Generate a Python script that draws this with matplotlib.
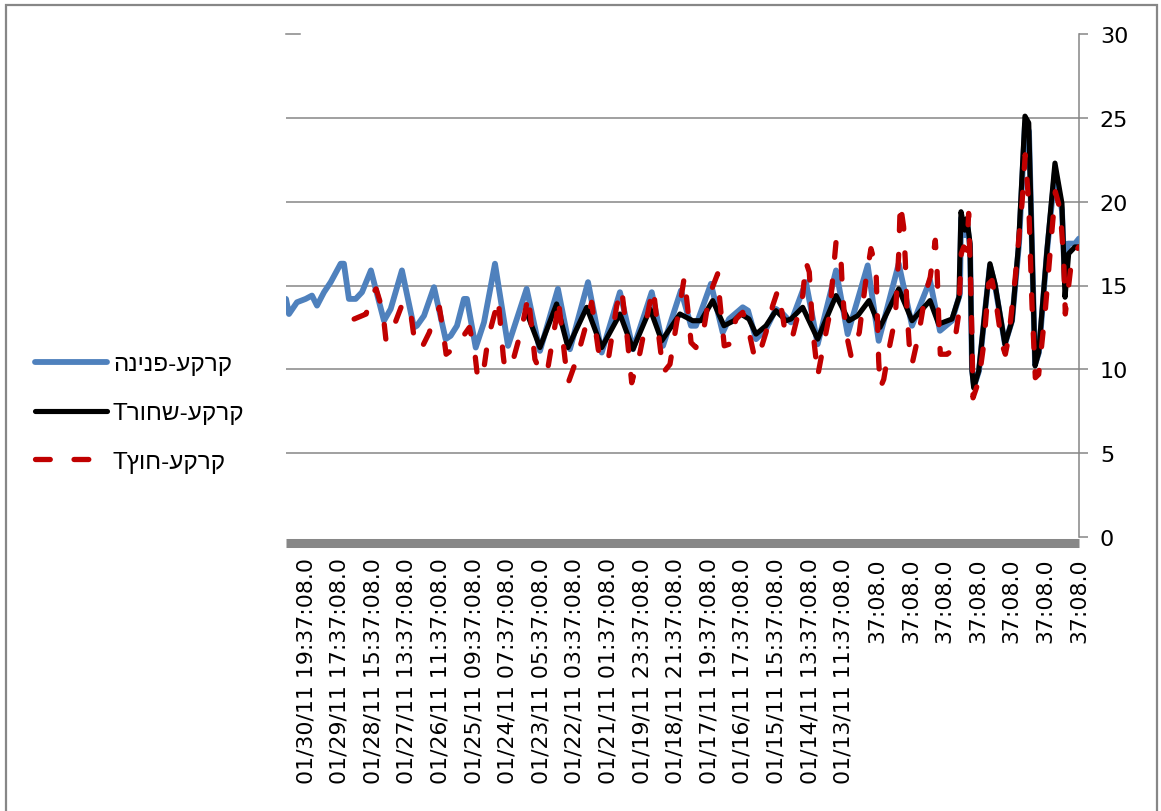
import matplotlib
matplotlib.use('Agg')
import matplotlib.pyplot as plt
from matplotlib.patches import Rectangle

# ---------------- data (x = hours from first sample, right edge = 0) ----------------
series_names = ["קרקע-פנינה", "קרקע-שחורT", "קרקע-חוץT"]

blue_h = [613.6, 611.3, 605.1, 598.4, 593.5, 589.6, 584.2, 579.0, 571.3, 568.8, 564.9, 559.7, 554.8, 547.9,
          537.8, 532.6, 523.9, 514.6, 512.3, 506.8, 499.1, 490.1, 486.2, 481.3, 475.9, 473.6, 466.8, 460.4,
          451.9, 441.8, 427.4, 417.1, 403.2, 393.9, 379.9, 369.3, 355.2, 345.1, 330.6, 321.9, 308.0, 300.2,
          296.4, 284.8, 275.7, 270.8, 260.2, 256.1, 249.9, 242.2, 234.5, 229.0, 222.9, 211.3, 202.2, 188.0,
          179.0, 163.5, 155.0, 139.5, 129.2, 121.5, 115.3, 107.6, 98.3, 92.1, 91.3, 88.2, 86.7, 84.3, 82.8,
          81.2, 77.4, 72.7, 68.9, 65.0, 57.3, 51.8, 46.4, 41.8, 38.7, 34.0, 31.0, 24.8, 18.6, 13.2, 10.8,
          8.5, 3.1, 0.0]
blue_v = [14.2, 13.3, 14.0, 14.2, 14.4, 13.8, 14.6, 15.2, 16.3, 16.3, 14.2, 14.2, 14.6, 15.9,
          12.9, 13.6, 15.9, 12.5, 12.6, 13.2, 14.9, 11.8, 12.0, 12.6, 14.2, 14.2, 11.3, 12.8,
          16.3, 11.4, 14.8, 11.1, 14.8, 11.2, 15.2, 11.0, 14.6, 11.2, 14.6, 11.4, 14.7, 12.6,
          12.6, 15.1, 12.2, 13.0, 13.7, 13.5, 11.8, 12.4, 13.6, 13.3, 12.8, 15.2, 11.5, 15.9,
          12.1, 16.2, 11.7, 16.3, 12.6, 14.1, 15.3, 12.3, 12.9, 14.5, 19.0, 18.0, 18.7, 17.3, 10.0,
          9.0, 9.9, 13.5, 16.2, 15.0, 11.5, 12.9, 17.5, 24.6, 24.2, 10.3, 11.0, 17.0, 21.8, 19.5, 15.0,
          17.5, 17.5, 17.8]

black_h = [427.4, 417.1, 404.2, 395.4, 380.9, 369.3, 355.2, 345.1, 331.9, 322.9, 308.8, 298.9, 292.5, 283.4,
           274.7, 267.0, 261.6, 255.4, 249.9, 242.2, 234.5, 226.7, 222.9, 213.8, 202.2, 188.0, 178.0, 171.2,
           162.5, 154.0, 139.5, 129.2, 115.3, 108.6, 98.3, 92.9, 91.3, 88.4, 86.7, 84.3, 82.8, 81.5, 77.6,
           72.7, 68.9, 65.0, 57.3, 51.8, 46.7, 41.8, 38.9, 34.0, 31.2, 24.8, 18.6, 13.2, 10.8, 8.0, 3.1, 0.0]
black_v = [13.4, 11.3, 13.9, 11.3, 13.7, 11.3, 13.3, 11.2, 13.6, 11.7, 13.3, 12.9, 12.9, 14.1,
           12.6, 12.9, 13.3, 13.0, 12.1, 12.6, 13.5, 12.9, 13.0, 13.7, 11.8, 14.4, 12.9, 13.2,
           14.1, 12.5, 14.8, 12.9, 14.1, 12.7, 13.0, 14.3, 19.4, 18.3, 19.0, 17.5, 9.9, 8.9, 9.9,
           13.5, 16.3, 15.1, 11.5, 12.9, 17.5, 25.1, 24.7, 10.2, 11.0, 17.1, 22.3, 19.9, 14.3, 16.9, 17.3, 17.3]

red_h = [560.9, 551.6, 547.7, 543.9, 538.7, 536.2, 531.0, 524.6, 522.0, 516.8,
         514.5, 509.1, 502.7, 500.0, 494.9, 492.3, 489.7, 484.5, 478.1, 471.7,
         467.8, 465.2, 460.4, 457.1, 451.9, 449.4, 445.5, 444.2, 437.7, 431.3,
         426.1, 421.0, 415.8, 410.7, 404.2, 402.9, 397.7, 395.2, 388.7, 380.9,
         377.1, 372.0, 369.3, 364.2, 357.7, 353.9, 350.0, 346.1, 339.7, 332.0,
         329.4, 325.5, 321.7, 316.5, 311.3, 309.3, 305.4, 301.6, 300.2, 296.4,
         289.9, 286.1, 279.6, 278.3, 274.5, 270.6, 265.4, 260.2, 256.4, 251.3,
         248.6, 242.2, 237.0, 233.1, 229.3, 226.7, 221.5, 213.8, 211.3, 208.7,
         206.1, 203.5, 202.2, 198.3, 193.2, 188.0, 184.2, 182.9, 180.3, 176.4,
         170.0, 164.8, 161.0, 157.1, 156.3, 155.0, 153.8, 151.1, 147.3, 142.1,
         139.5, 138.3, 135.7, 134.4, 133.1, 130.5, 129.2, 124.0, 118.9, 115.1,
         111.2, 109.9, 108.6, 107.3, 102.1, 97.0, 93.1, 91.1, 89.2, 86.7,
         85.4, 84.1, 82.8, 82.0, 77.6, 73.7, 69.9, 67.3, 64.8, 59.6,
         57.0, 54.4, 49.3, 44.1, 41.6, 38.9, 36.4, 33.8, 31.2, 26.1,
         20.9, 18.3, 14.5, 11.8, 10.6, 5.4, 0.2]
red_v = [13.0, 13.3, 14.4, 14.8, 13.5, 11.7, 12.4, 13.7, 14.0, 13.2,
         11.9, 11.2, 12.2, 12.9, 13.7, 12.4, 10.9, 11.2, 11.8, 12.5,
         11.2, 9.4, 10.1, 11.9, 13.4, 14.2, 10.8, 10.0, 10.6, 12.4,
         14.4, 10.6, 9.7, 10.2, 13.2, 14.2, 10.6, 9.2, 10.6, 12.8,
         14.0, 11.2, 10.4, 10.6, 13.8, 14.8, 12.2, 9.2, 11.0, 14.0,
         14.8, 12.2, 9.8, 10.3, 12.8, 13.6, 15.5, 12.8, 11.6, 11.3,
         12.6, 14.4, 15.7, 14.4, 11.4, 11.5, 13.0, 13.4, 12.6, 10.8,
         10.6, 12.2, 13.8, 14.7, 13.2, 11.8, 12.0, 14.4, 16.4, 15.8,
         12.4, 10.6, 9.6, 11.2, 13.2, 17.6, 16.6, 14.5, 12.2, 10.8,
         12.2, 15.4, 17.2, 16.1, 13.9, 10.5, 8.9, 9.4, 11.1, 13.1,
         16.9, 19.9, 18.5, 16.5, 13.5, 10.5, 10.3, 12.1, 14.5, 15.5,
         17.7, 16.1, 13.1, 10.9, 10.9, 11.2, 13.3, 16.9, 17.3, 17.1,
         19.3, 15.9, 11.9, 8.3, 9.3, 11.5, 15.1, 15.3, 14.3, 11.5,
         10.9, 11.9, 15.5, 19.9, 22.8, 19.9, 13.9, 9.5, 9.7, 13.5,
         18.3, 20.6, 19.5, 16.5, 13.3, 16.7, 17.3]

tick_hours = [26 * k for k in range(24)]
tick_labels = ["37:08.0"] * 7 + [
    "01/13/11 11:37:08.0", "01/14/11 13:37:08.0", "01/15/11 15:37:08.0", "01/16/11 17:37:08.0",
    "01/17/11 19:37:08.0", "01/18/11 21:37:08.0", "01/19/11 23:37:08.0", "01/21/11 01:37:08.0",
    "01/22/11 03:37:08.0", "01/23/11 05:37:08.0", "01/24/11 07:37:08.0", "01/25/11 09:37:08.0",
    "01/26/11 11:37:08.0", "01/27/11 13:37:08.0", "01/28/11 15:37:08.0", "01/29/11 17:37:08.0",
    "01/30/11 19:37:08.0"]
y_ticks = [0, 5, 10, 15, 20, 25, 30]

# ---------------- figure ----------------
W, H = 1161, 812
fig = plt.figure(figsize=(W / 100, H / 100), dpi=100)
fig.patch.set_facecolor('white')
fig.patches.append(Rectangle((6 / W, -0.05), (1157 - 6) / W, 1 - 6 / H + 0.05,
                             transform=fig.transFigure, fill=False,
                             edgecolor='#878787', lw=1.6))

ax = fig.add_axes([286 / W, 1 - 538 / H, (1079 - 286) / W, (538 - 35) / H])

GRAY = '#868686'

# spines first (set_position resets ticks)
for s in ['top', 'left']:
    ax.spines[s].set_visible(False)
ax.spines['right'].set_color(GRAY)
ax.spines['right'].set_linewidth(1.1)
ax.spines['bottom'].set_color('#878787')
ax.spines['bottom'].set_linewidth(6.5)
ax.spines['bottom'].set_capstyle('butt')
ax.spines['bottom'].set_position(('outward', 4))
ax.spines['bottom'].set_zorder(6)

def disp(s):
    return s[::-1]

ax.plot(blue_h, blue_v, color='#4F81BD', lw=4.2, solid_joinstyle='round',
        solid_capstyle='round', label=disp(series_names[0]), zorder=3)
ax.plot(black_h, black_v, color='black', lw=3.7, solid_joinstyle='round',
        solid_capstyle='round', label=disp(series_names[1]), zorder=4)
ax.plot(red_h, red_v, color='#C00000', lw=3.8, linestyle=(0, (2.8, 4.5)),
        dash_capstyle='round', dash_joinstyle='round', label=disp(series_names[2]), zorder=5)

ax.set_xlim(613.6, 0)
ax.set_ylim(0, 30)

ax.set_xticks(tick_hours)
ax.set_xticklabels(tick_labels)
ax.tick_params(axis='x', length=0, pad=10.6, labelrotation=90, labelsize=15.8,
               labelfontfamily='DejaVu Sans')
for t in ax.get_xticklabels():
    t.set_verticalalignment('top')
    t.set_horizontalalignment('center')

ax.yaxis.tick_right()
ax.set_yticks(y_ticks)
ax.set_yticklabels([str(v) for v in y_ticks])
ax.tick_params(axis='y', direction='out', length=6.5, width=1.1, color=GRAY, pad=8.5,
               labelsize=16, labelfontfamily='DejaVu Sans')

# horizontal gridlines (the top one only shows as a short stub at the left)
for v in y_ticks[1:-1]:
    ax.axhline(v, color=GRAY, lw=1.1, zorder=1)
ax.axhline(y_ticks[-1], xmin=0, xmax=0.018, color=GRAY, lw=1.1, zorder=1, clip_on=False)

leg = ax.legend(loc='center left', bbox_to_anchor=(35 / W, 1 - 414 / H),
                bbox_transform=fig.transFigure, frameon=False,
                prop={'family': ['Liberation Sans', 'DejaVu Sans'], 'size': 17.5},
                handlelength=2.95, handletextpad=0.25, labelspacing=1.1,
                borderpad=0, borderaxespad=0)

fig.savefig('out.png', dpi=100, facecolor='white')
